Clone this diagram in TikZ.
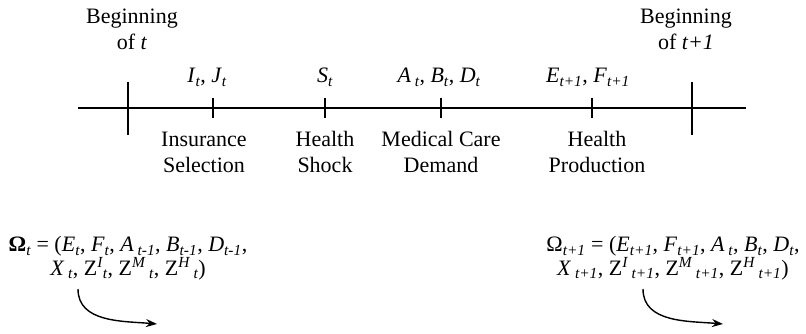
\documentclass[tikz,border=0pt]{standalone}
\usepackage{fontspec}
\setmainfont{LiberationSerif}[Extension=.ttf, UprightFont=*-Regular, ItalicFont=*-Italic, BoldFont=*-Bold, BoldItalicFont=*-BoldItalic]
\usetikzlibrary{arrows.meta}

\newcommand{\tsub}[1]{\textsubscript{\itshape #1}}
\newcommand{\tsup}[1]{\textsuperscript{\itshape #1}}

\begin{document}
\begin{tikzpicture}[x=1pt, y=-1pt, line width=1.4pt, >={Stealth[length=11pt, width=8pt]},
    font={\fontsize{22}{26}\selectfont},
    event/.style={align=center, inner sep=0pt, anchor=north},
    var/.style={inner sep=0pt, anchor=base},
    state/.style={align=center, inner sep=0pt, anchor=north, font={\fontsize{22}{18}\selectfont}}]

    \useasboundingbox (0,0) rectangle (806,334);

    % Time line
    \coordinate (L) at (78,108);
    \coordinate (R) at (746,108);
    \draw (L) -- (R);

    % Period boundaries
    \coordinate (T0) at (128,108);
    \coordinate (T1) at (692,108);
    \foreach \t in {T0,T1}
        \draw ([yshift=26pt]\t) -- ([yshift=-27pt]\t);

    % Events within the period
    \coordinate (E1) at (213,108);
    \coordinate (E2) at (325,108);
    \coordinate (E3) at (441,108);
    \coordinate (E4) at (592,108);
    \foreach \e in {E1,E2,E3,E4}
        \draw ([yshift=10pt]\e) -- ([yshift=-10pt]\e);

    \node[event] (B0) at (132,8) {Beginning\\of \textit{t}};
    \node[event] (B1) at (686,8) {Beginning\\of \textit{t+1}};

    \node[var] (IJ) at (207,83) {\textit{I}\tsub{t}, \textit{J}\tsub{t}};
    \node[var] (S) at (325,83) {\textit{S}\tsub{t}};
    \node[var] (ABD) at (439,83) {\textit{A}\,\tsub{t}, \textit{B}\tsub{t}, \textit{D}\tsub{t}};
    \node[var] (EF) at (588,83) {\textit{E}\tsub{t+1}, \textit{F}\tsub{t+1}};

    \node[event] (ins) at (204,131) {Insurance\\Selection};
    \node[event] (shock) at (325,131) {Health\\Shock};
    \node[event] (care) at (441,131) {Medical Care\\Demand};
    \node[event] (prod) at (597,131) {Health\\Production};

    % State vectors
    \node[state] (Om0) at (128,236) {\textbf{Ω}\tsub{t} = (\textit{E}\tsub{t}, \textit{F}\tsub{t}, \textit{A}\,\tsub{t-1}, \textit{B}\tsub{t-1}, \textit{D}\tsub{t-1},\\
        \textit{X}\,\tsub{t}, Z\tsup{I}\tsub{t}, Z\tsup{M}\,\tsub{t}, Z\tsup{H}\,\tsub{t})};
    \node[state] (Om1) at (673,236) {Ω\tsub{t+1} = (\textit{E}\tsub{t+1}, \textit{F}\tsub{t+1}, \textit{A}\,\tsub{t}, \textit{B}\tsub{t}, \textit{D}\tsub{t},\\
        \textit{X}\,\tsub{t+1}, Z\tsup{I}\,\tsub{t+1}, Z\tsup{M}\,\tsub{t+1}, Z\tsup{H}\,\tsub{t+1})};

    % Transitions
    \coordinate (s0) at (78,289);
    \coordinate (e0) at (157,324);
    \coordinate (s1) at (643,289);
    \coordinate (e1) at (723,324);
    \draw[->] (s0) to[out=-90, in=175] (e0);
    \draw[->] (s1) to[out=-90, in=175] (e1);

\end{tikzpicture}
\end{document}
